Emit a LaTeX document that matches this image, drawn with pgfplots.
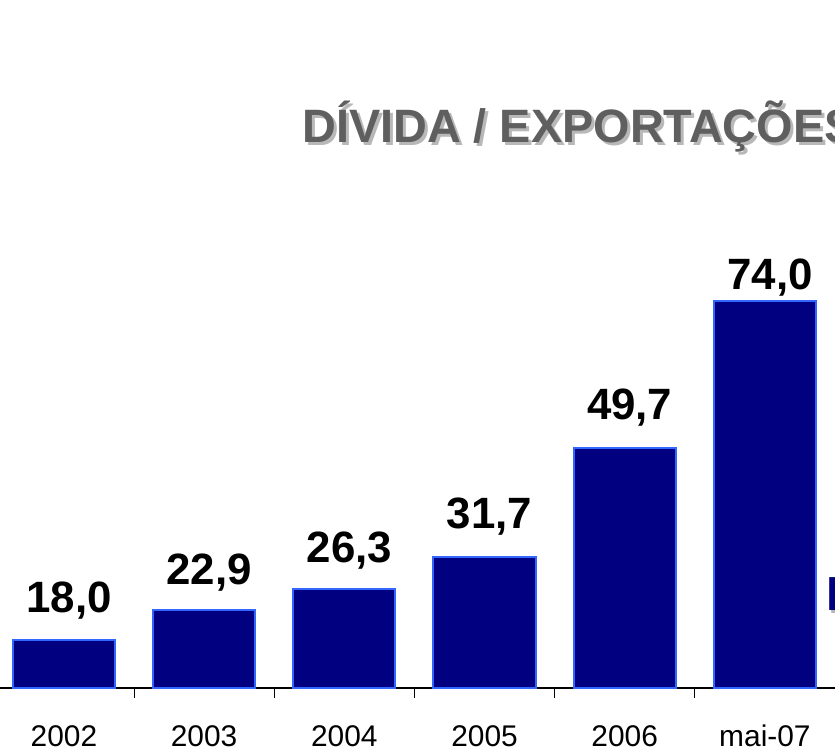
\documentclass[border=0pt]{standalone}
\usepackage{pgfplots}
\pgfplotsset{compat=1.18}
\usepackage{pgfplotstable}
\usepackage{fontspec}
\setmainfont{Liberation Sans}
\definecolor{barfill}{HTML}{000080}
\definecolor{baredge}{HTML}{3366FF}
\definecolor{titlegray}{HTML}{5F5F5F}
\definecolor{shadowgray}{HTML}{B8B8B8}
\pgfplotstableread{
x  y     lab   off
0  18.0  18,0  27
1  22.9  22,9  25
2  26.3  26,3  27
3  31.7  31,7  28
4  49.7  49,7  28
5  74.0  74,0  11
}\datatable
\begin{document}
\begin{tikzpicture}
\begin{scope}
\clip (0,0) rectangle (835bp,752bp);
\begin{axis}[
  scale only axis,
  width=835bp, height=688bp,
  at={(0,64bp)}, anchor=south west,
  xmin=-0.456, xmax=5.5,
  ymin=10, ymax=123.7,
  axis x line*=bottom,
  axis y line=none,
  axis line style={black, line width=1.2bp},
  xtick={0,1,2,3,4,5},
  xticklabels={2002,2003,2004,2005,2006,mai-07},
  major tick length=0pt,
  minor xtick={0.5,1.5,2.5,3.5,4.5,5.5},
  minor tick length=10bp,
  tick align=outside,
  minor tick style={black, line width=0.8bp},
  xticklabel style={font=\fontsize{30}{36}\selectfont, anchor=base, yshift=-58bp},
  ytick=\empty,
  clip=false,
]
\addplot[ybar, bar width=0.73, bar shift=0pt, fill=barfill, draw=baredge, line width=2bp,
  nodes near coords, point meta=explicit symbolic,
  visualization depends on={\thisrow{off} \as \myoff},
  nodes near coords style={font=\bfseries\fontsize{44}{50}\selectfont, black, anchor=base, yshift=\myoff bp, xshift=5bp}]
  table[x=x, y=y, meta=lab]{\datatable};
\end{axis}
\node[anchor=base west, text=shadowgray, font=\bfseries\fontsize{47}{53}\selectfont, inner sep=0pt] at (305bp,606bp) {DÍVIDA / EXPORTAÇÕES};
\node[anchor=base west, text=titlegray, font=\bfseries\fontsize{47}{53}\selectfont, inner sep=0pt] at (302bp,609bp) {DÍVIDA / EXPORTAÇÕES};
\node[anchor=base west, text=shadowgray, font=\bfseries\fontsize{48}{54}\selectfont, inner sep=0pt] at (828bp,138bp) {R};
\node[anchor=base west, text=barfill, font=\bfseries\fontsize{48}{54}\selectfont, inner sep=0pt] at (826bp,141bp) {R};
\end{scope}
\pgfresetboundingbox
\useasboundingbox (0,0) rectangle (835bp,752bp);
\end{tikzpicture}
\end{document}
